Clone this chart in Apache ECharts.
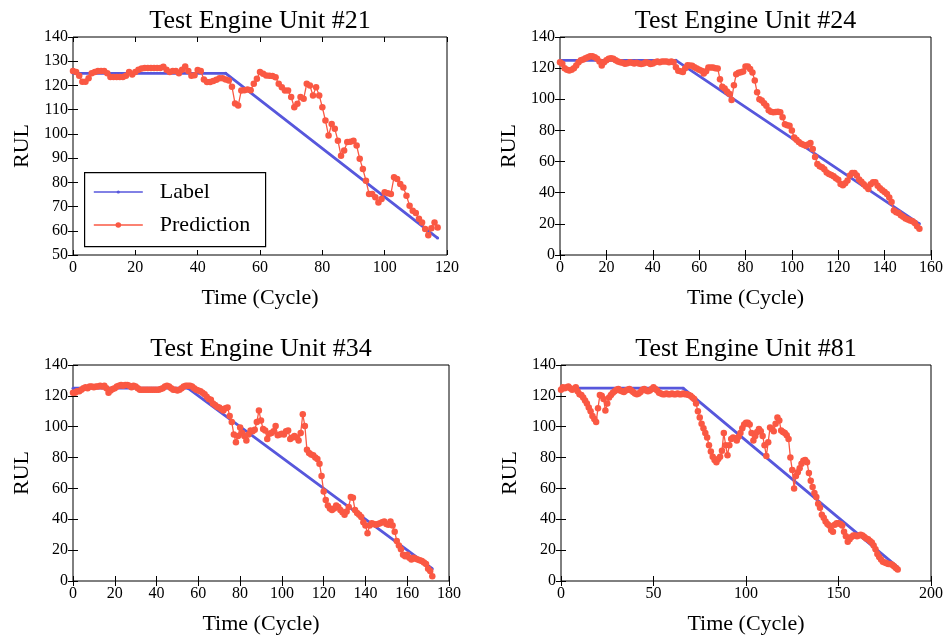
<!DOCTYPE html>
<html><head><meta charset="utf-8">
<script src="https://cdn.jsdelivr.net/npm/echarts@6/dist/echarts.min.js"></script>
<style>html,body{margin:0;padding:0;background:#fff}#c{width:949px;height:636px}</style>
</head><body><div id="c"></div>
<script>
const titles = ['Test Engine Unit #21','Test Engine Unit #24','Test Engine Unit #34','Test Engine Unit #81'];
const xName = 'Time (Cycle)';
const yName = 'RUL';

// Prediction values, index = cycle
const pred21 = [126,125.5,124,121.5,121.5,123,125,125.5,126,126,
126,125,123.5,123.5,123.5,123.5,123.5,124,125.5,124.5,
125.5,126.5,127,127.2,127.2,127.2,127.2,127.2,127.2,127.7,
126.5,125.5,126,126,125,126.5,127.8,126,124,124.2,
126.4,126,122.5,121.4,121.4,121.8,122.3,123,123,122.5,
122,119.5,112.5,111.7,117.9,118,118.3,118,120.7,122.8,
125.5,124.8,124.1,124,123.9,123.4,120.7,119.3,117.9,117.9,
115.2,111,112.4,115.2,114.5,120.7,120,115.9,119.3,115.9,
111,105.5,99.3,104.1,102.1,97.2,91,93.1,96.6,96.8,
97.2,95.2,89.7,85.5,80.7,75.2,75.2,73.8,71.7,73.1,
75.9,75.5,75.2,82.1,81.4,79.3,77.9,74.5,70.3,68.3,
67.3,65,63.4,60.7,58.2,61,63.4,61.4];

const pred24 = [123.8,122.8,120,119,118.5,119,120,121.7,123.8,125,
125.5,126.4,127,127.7,127.7,127,126,124.3,121.7,123.8,
125,126,126.4,126,125,124.3,123.8,123.4,122.8,123.2,
123.8,123.4,123,123.4,123,122.6,123,123.8,123.4,122.6,
123,123.8,124.3,123.8,124.3,124.3,124.3,123.8,124.3,123.8,
120.5,118.3,118,117.6,120,121.9,121.7,121.5,120.5,119.8,
119,118.3,116.5,118,120.4,120.4,120.4,120,119.8,112.9,
108,107,105,103.5,99.5,109,116,117,117.4,117.8,
121,121,119.5,117.2,112,104.5,100.1,99.3,97.5,95.9,
93,92,91.6,91.8,92,91.6,88.5,84,83.3,83,
80,75.5,74,72.5,71.5,70.8,70.2,71,71.9,68.1,
63,58.5,57,56.3,55,53,52,51.3,50.5,49.3,
48.3,45.6,44.8,46,47.8,51,52.7,52.6,51,48.5,
47,45.5,44,42.4,45.5,46.7,46.7,44.5,42.8,41.6,
40.5,39.2,37,34,28.5,27.5,27,25.5,24.5,23.5,
22.8,22.1,21.6,20.5,18.5,16.8];

const pred34 = [122,122,123,123,124,125,125.5,125,126,126,
125.5,126,126,126.5,126,126.5,125,122,123.5,124.5,
125,126,126.5,127,126.5,127,127,126.5,125.5,126.5,
126,125,124,124,124,124,124,124,124,124,
124,124,124.5,125,126,126.5,126,125,124,124,
123.5,124,125,126,126.5,126.5,
126.5,126,125,124,123.5,123,122,121,119.5,118,
117.5,115,114,113,112.5,111.5,110.5,112,112.5,107,
103,95,90,94,99.5,96,94,91,95,97.5,
97,98,103,110.5,104,98.5,97.5,92,95.5,96,
97,100.5,94.5,95,95.5,95,97,97.5,92,93,
94,93,91,96,108,100.5,85,83,82,81.5,
80,79,76,68,58,52.5,49,47,46,47,
49,48,46,44.5,43,45,48,54.5,54,46,
44,43,41.5,38,36,31,36,37.5,37,36.5,
37,37.5,38,38.5,37,36.5,38.5,36,32,26,
23,20.5,17,16,17,15,14,15,14.5,14,
13.5,13,12,11,8,6.5,3];

const pred81 = [124,125.5,125,125.5,126,125,124,124.5,125.5,123,
121,120.5,119,117,115,112.5,110,107,105,103,
112,120.5,120,118,110.5,115,119,120.5,122,123,
124,124.5,123.5,123,122.5,123.5,124,124.5,123.5,122.5,
121.5,121,121.5,122.5,124,124.5,123.5,123,123.5,124.5,
125.5,124.5,123.5,122,121.5,121,121,121.5,121,121,
121.5,121,121,121.5,121,121,121.5,121,121,120.5,
120,119,118,115,110,106,102,99,96,93,
88,84,80.5,78.5,77,79,80.5,84.5,96,88,
81.5,88,92,93,92.5,91,93.5,96,99,101.5,
102.5,102.5,101.5,96,91,94,96.5,98.5,97,94,
88,81,90,99.5,98.5,97,102,106,104,97.5,
96.5,96,94.5,92,80,72,60,68,70.5,73,
76,78,78.5,77,70,65,61,57,54.5,50,
47.5,43,41,38.5,37,36,33,32,36.5,37.5,
37.5,37,36,32,29,25.5,27,28.5,29.5,29.5,
29,29.5,30,29.5,28.5,27.5,27,26,25,23,
20.5,17.5,15.5,14,12.5,12,11.5,11,11,10.5,
9.5,8.5,7.5];

// Label (true RUL) knots: [cycle, RUL]
const label21 = [[0,125],[49,125],[117,57]];
const label24 = [[0,125],[50,125],[155,20]];
const label34 = [[0,125],[55,125],[172,8]];
const label81 = [[0,125],[66,125],[182,9]];

// tick labels
const xTicks21 = [0,20,40,60,80,100,120];
const xTicks24 = [0,20,40,60,80,100,120,140,160];
const xTicks34 = [0,20,40,60,80,100,120,140,160,180];
const xTicks81 = [0,50,100,150,200];
const yTicks21 = [50,60,70,80,90,100,110,120,130,140];
const yTicksRest = [0,20,40,60,80,100,120,140];

const preds = [pred21,pred24,pred34,pred81];
const labels = [label21,label24,label34,label81];
const xTicks = [xTicks21,xTicks24,xTicks34,xTicks81];
const yTicks = [yTicks21,yTicksRest,yTicksRest,yTicksRest];

const grids = [
  {left:73, top:37, width:374, height:218},
  {left:560, top:37, width:371, height:218},
  {left:73, top:365, width:376, height:218},
  {left:561, top:365, width:370, height:218}
];

const FONT = '"Liberation Serif", "DejaVu Serif", serif';
const BLUE = '#5757dc';
const RED = '#fa5843';

const xAxes = [], yAxes = [], series = [];
grids.forEach((g,i) => {
  g.show = true; g.borderColor = '#000'; g.borderWidth = 1; g.containLabel = false;
  const xt = xTicks[i], yt = yTicks[i];
  const xr = {type:'value', gridIndex:i, min:xt[0], max:xt[xt.length-1], interval:xt[1]-xt[0]};
  const yr = {type:'value', gridIndex:i, min:yt[0], max:yt[yt.length-1], interval:yt[1]-yt[0]};
  const tick = {show:true, inside:true, length:5, lineStyle:{color:'#000', width:1}};
  xAxes.push(Object.assign({}, xr, {position:'bottom', axisLine:{show:false}, axisTick:tick, splitLine:{show:false},
    axisLabel:{color:'#000', fontSize:16, fontFamily:FONT, margin:5},
    name:xName, nameLocation:'middle', nameGap:32, nameTextStyle:{color:'#000', fontSize:22, fontFamily:FONT}}));
  xAxes.push(Object.assign({}, xr, {position:'top', axisLine:{show:false}, axisTick:tick, splitLine:{show:false},
    axisLabel:{show:false},
    name:titles[i], nameLocation:'middle', nameGap:3, nameTextStyle:{color:'#000', fontSize:26, fontFamily:FONT, verticalAlign:'bottom'}}));
  yAxes.push(Object.assign({}, yr, {position:'left', axisLine:{show:false}, axisTick:tick, splitLine:{show:false},
    axisLabel:{color:'#000', fontSize:16, fontFamily:FONT, margin:5},
    name:yName, nameLocation:'middle', nameGap:40, nameTextStyle:{color:'#000', fontSize:22, fontFamily:FONT}}));
  yAxes.push(Object.assign({}, yr, {position:'right', axisLine:{show:false}, axisTick:tick, splitLine:{show:false},
    axisLabel:{show:false}}));
  series.push({
    name:'Label', type:'line', xAxisIndex:2*i, yAxisIndex:2*i, data:labels[i],
    symbol:'circle', symbolSize:3, showSymbol:true, itemStyle:{color:BLUE},
    lineStyle:{color:BLUE, width:2.8}, z:2, silent:true
  });
  series.push({
    name:'Prediction', type:'line', xAxisIndex:2*i, yAxisIndex:2*i,
    data:preds[i].map((v,k)=>[k,v]),
    symbol:'circle', symbolSize:6.5, showSymbol:true, itemStyle:{color:RED},
    lineStyle:{color:RED, width:1.3}, z:3, silent:true
  });
});

const legTxt = {color:'#000', fontSize:22, fontFamily:FONT, lineHeight:24, padding:[0,0,0,12]};
const option = {
  animation:false,
  backgroundColor:'#fff',
  grid:grids, xAxis:xAxes, yAxis:yAxes, series:series,
  legend:[
    {data:['Label'], left:93, top:180, orient:'vertical', padding:0, itemWidth:49, itemHeight:4,
     textStyle:legTxt, selectedMode:false, lineStyle:{width:1.6}},
    {data:['Prediction'], left:93, top:213, orient:'vertical', padding:0, itemWidth:49, itemHeight:7,
     textStyle:legTxt, selectedMode:false, lineStyle:{width:1.6}}
  ],
  graphic:[{type:'rect', left:84, top:172, shape:{width:181, height:74},
    style:{fill:'rgba(255,255,255,0.9)', stroke:'#000', lineWidth:1.2}, z:-1, zlevel:0}]
};
const chart = echarts.init(document.getElementById('c'), null, {renderer:'canvas'});
chart.setOption(option);
</script></body></html>
